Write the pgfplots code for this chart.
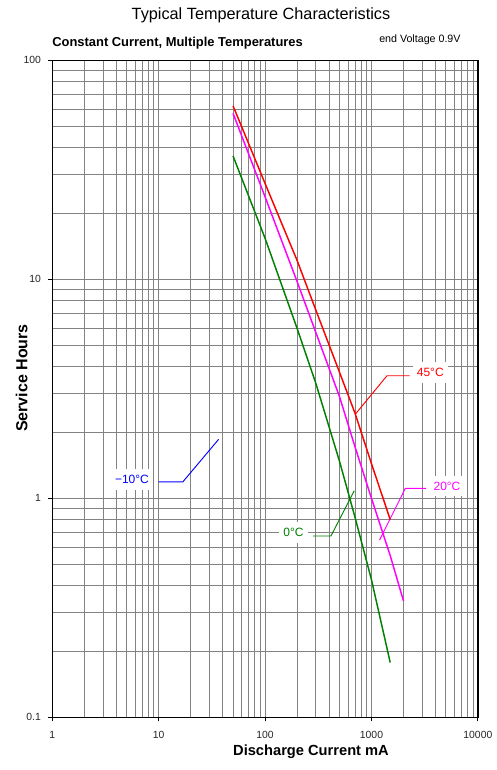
\documentclass[border=0pt]{standalone}
\usepackage{pgfplots}
\pgfplotsset{compat=1.18}
\usepackage{fontspec}
\setmainfont{Liberation Sans}
\definecolor{gridgray}{RGB}{130,130,130}
\definecolor{dgreen}{RGB}{0,128,0}
\definecolor{pmag}{RGB}{255,0,255}
\definecolor{pred}{RGB}{255,0,0}
\definecolor{pblue}{RGB}{0,0,255}
\begin{document}
\begin{tikzpicture}
\path[use as bounding box] (0pt,0pt) rectangle (372pt,-577.5pt);
\begin{axis}[
  at={(39.2pt,-538pt)}, anchor=south west,
  scale only axis, width=319.2pt, height=492.75pt,
  xmode=log, ymode=log,
  xmin=1, xmax=10000, ymin=0.1, ymax=100,
  xtick={1,10,100,1000,10000}, xticklabels={1,10,100,1000,10000},
  ytick={0.1,1,10,100}, yticklabels={0.1,1,10,100},
  minor xtick={2,3,4,5,6,7,8,9,20,30,40,50,60,70,80,90,200,300,400,500,600,700,800,900,2000,3000,4000,5000,6000,7000,8000,9000},
  minor ytick={0.2,0.3,0.4,0.5,0.6,0.7,0.8,0.9,2,3,4,5,6,7,8,9,20,30,40,50,60,70,80,90},
  grid=both,
  major grid style={gridgray, line width=0.6pt},
  minor grid style={gridgray, line width=0.55pt},
  tick align=outside, major tick length=3pt, minor tick length=0pt,
  xtick pos=bottom, ytick pos=left,
  axis line style={black, line width=1pt},
  tick style={black, line width=0.6pt},
  /pgf/number format/assume math mode=true,
  tick label style={font=\fontsize{7.8}{9}\selectfont, text=black!85},
  xticklabel style={yshift=-4pt},
  yticklabel style={xshift=-2pt},
]
% labels with white boxes
\node[fill=white, text=pred, font=\fontsize{9}{10}\selectfont, inner xsep=3pt, inner ysep=4.5pt] at (axis cs:3571,3.75) {45°C};
\node[fill=white, text=pmag, font=\fontsize{9}{10}\selectfont, inner xsep=3pt, inner ysep=4.5pt] at (axis cs:5126,1.14) {20°C};
\node[fill=white, text=dgreen, font=\fontsize{9}{10}\selectfont, inner xsep=3pt, inner ysep=4.5pt] at (axis cs:185,0.70) {0°C};
\node[fill=white, text=pblue, font=\fontsize{9}{10}\selectfont, inner xsep=3pt, inner ysep=4.5pt] at (axis cs:5.61,1.22) {−10°C};
% leader lines
\draw[pred, line width=0.7pt] (axis cs:704,2.42) -- (axis cs:1399,3.63) -- (axis cs:2281,3.63);
\draw[pmag, line width=0.7pt] (axis cs:1192,0.645) -- (axis cs:2079,1.11) -- (axis cs:3254,1.11);
\draw[dgreen, line width=0.7pt] (axis cs:689,1.083) -- (axis cs:416,0.673) -- (axis cs:282,0.673);
\draw[pblue, line width=0.7pt] (axis cs:36.6,1.86) -- (axis cs:16.9,1.19) -- (axis cs:9.98,1.19);
% curves
\addplot[pred, line width=1.1pt, mark=none] coordinates {
(50,62) (100,27.4) (200,12.2) (300,7.24) (500,3.77) (700,2.45) (1000,1.44) (1500,0.80)};
\addplot[pmag, line width=1.1pt, mark=none] coordinates {
(50,57.3) (100,23.8) (200,9.77) (300,5.72) (500,2.92) (700,1.72) (1000,1.0) (1500,0.548) (2000,0.34)};
\addplot[dgreen, line width=1.1pt, mark=none] coordinates {
(50,36.6) (100,15.4) (200,5.97) (300,3.35) (500,1.48) (700,0.82) (1000,0.425) (1500,0.178)};
\end{axis}
\node[font=\fontsize{12.2}{14}\selectfont] at (195.75pt,-11.25pt) {Typical Temperature Characteristics};
\node[anchor=west, inner sep=0pt, font=\fontsize{9.7}{11}\selectfont\bfseries] at (39pt,-32.5pt) {Constant Current, Multiple Temperatures};
\node[anchor=west, inner sep=0pt, font=\fontsize{8}{9}\selectfont] at (284.25pt,-30pt) {end Voltage 0.9V};
\node[font=\fontsize{11}{12}\selectfont\bfseries] at (233.25pt,-564pt) {Discharge Current mA};
\node[rotate=90, font=\fontsize{12}{13}\selectfont\bfseries] at (16.3pt,-283.5pt) {Service Hours};
\end{tikzpicture}
\end{document}
